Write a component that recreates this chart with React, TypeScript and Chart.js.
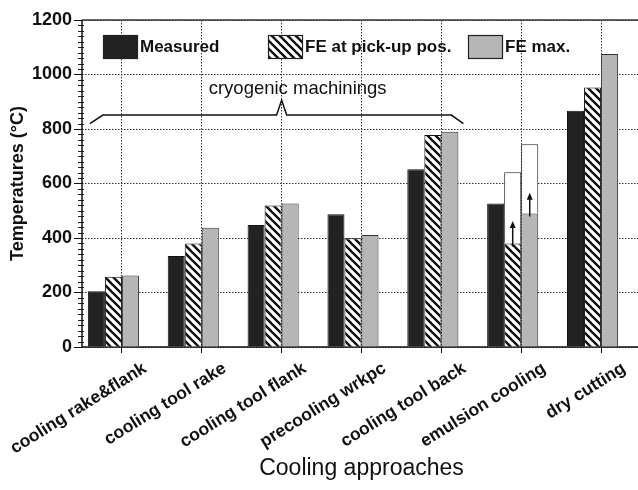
import React, { useEffect, useRef } from 'react';
import { Chart, registerables } from 'chart.js';

Chart.register(...registerables);

const categories = [
  'cooling rake&flank',
  'cooling tool rake',
  'cooling tool flank',
  'precooling wrkpc',
  'cooling tool back',
  'emulsion cooling',
  'dry cutting',
];
const measured = [205, 334, 448, 487, 652, 527, 867];
const fePickup = [258, 380, 519, 399, 778, 380, 952];
const feMax = [262, 438, 527, 411, 790, 490, 1075];
const fePickupRange = [null, null, null, null, null, [380, 641], null];
const feMaxRange = [null, null, null, null, null, [490, 744], null];
const fePickupArrowTip = [null, null, null, null, null, 462, null];
const feMaxArrowTip = [null, null, null, null, null, 566, null];
const spacer = [null, null, null, null, null, null, null];
const yTickValues = [0, 200, 400, 600, 800, 1000, 1200];
const legendLabels = ['Measured', 'FE at pick-up pos.', 'FE max.'];

const bracketLabel = 'cryogenic machinings';
const bracketFirstCategory = 0;
const bracketLastCategory = 4;
const bracketPeakCategory = 2;
const bracketLevel = 851;
const bracketEndLevel = 820;
const bracketPeakLevel = 906;
const bracketLabelLevel = 948;

const FONT = '"Liberation Sans", Arial, Helvetica, sans-serif';

function makeHatch(): CanvasPattern | string {
  const c = document.createElement('canvas');
  c.width = 8;
  c.height = 8;
  const g = c.getContext('2d');
  if (!g) return '#555';
  g.fillStyle = '#111';
  g.fillRect(0, 0, 8, 8);
  g.strokeStyle = '#fff';
  g.lineWidth = 3.2;
  for (const k of [-8, 0, 8]) {
    g.beginPath();
    g.moveTo(k - 1, -1);
    g.lineTo(k + 9, 9);
    g.stroke();
  }
  const p = g.createPattern(c, 'repeat');
  return p || '#555';
}

export default function App() {
  const ref = useRef<HTMLCanvasElement | null>(null);

  useEffect(() => {
    const canvas = ref.current;
    if (!canvas) return;
    const hatch = makeHatch();
    const black = '#222';
    const gray = '#b6b6b6';

    const decorPlugin = {
      id: 'decor',
      beforeDatasetsDraw(chart: any) {
        const { ctx, chartArea, scales } = chart;
        const y = scales.y;
        ctx.save();
        ctx.setLineDash([]);
        ctx.strokeStyle = '#222';
        ctx.lineWidth = 1;
        for (let v = 0; v <= 1200; v += 20) {
          if (v % 200 === 0) continue;
          const py = Math.round(y.getPixelForValue(v)) + 0.5;
          ctx.beginPath();
          ctx.moveTo(chartArea.left - 4, py);
          ctx.lineTo(chartArea.left + 2, py);
          ctx.stroke();
        }
        ctx.strokeStyle = '#333';
        ctx.lineWidth = 1.5;
        ctx.beginPath();
        ctx.moveTo(chartArea.left, chartArea.top);
        ctx.lineTo(chartArea.right, chartArea.top);
        ctx.stroke();
        ctx.strokeStyle = '#111';
        ctx.beginPath();
        ctx.moveTo(chartArea.left, chartArea.top);
        ctx.lineTo(chartArea.left, chartArea.bottom);
        ctx.lineTo(chartArea.right, chartArea.bottom);
        ctx.stroke();
        ctx.restore();
      },
      afterDatasetsDraw(chart: any) {
        const { ctx, chartArea, scales } = chart;
        const x = scales.x;
        const y = scales.y;
        ctx.save();
        ctx.setLineDash([]);
        const arrowSets: [number, (number | null)[]][] = [
          [1, fePickupArrowTip],
          [2, feMaxArrowTip],
        ];
        ctx.strokeStyle = '#111';
        ctx.fillStyle = '#111';
        for (const [di, tips] of arrowSets) {
          const meta = chart.getDatasetMeta(di);
          tips.forEach((tip, i) => {
            if (tip == null) return;
            const el = meta.data[i];
            const cx = el.x;
            const y0 = el.y + 3;
            const y1 = y.getPixelForValue(tip);
            ctx.lineWidth = 1.5;
            ctx.beginPath();
            ctx.moveTo(cx, y0);
            ctx.lineTo(cx, y1 + 5);
            ctx.stroke();
            ctx.beginPath();
            ctx.moveTo(cx, y1);
            ctx.lineTo(cx - 3, y1 + 7);
            ctx.lineTo(cx + 3, y1 + 7);
            ctx.closePath();
            ctx.fill();
          });
        }
        const m0 = chart.getDatasetMeta(0).data[bracketFirstCategory];
        const m2 = chart.getDatasetMeta(2).data[bracketLastCategory];
        const xl = m0.x - m0.width / 2 + 2;
        const xr = m2.x + m2.width / 2 + 5;
        const xp = x.getPixelForValue(bracketPeakCategory);
        const yl = y.getPixelForValue(bracketLevel);
        const ye = y.getPixelForValue(bracketEndLevel);
        const yp = y.getPixelForValue(bracketPeakLevel);
        ctx.strokeStyle = '#111';
        ctx.lineWidth = 1.5;
        ctx.beginPath();
        ctx.moveTo(xl, ye);
        ctx.lineTo(xl + 13, yl);
        ctx.lineTo(xp - 5, yl);
        ctx.lineTo(xp, yp);
        ctx.lineTo(xp + 5, yl);
        ctx.lineTo(xr - 12, yl);
        ctx.lineTo(xr, ye);
        ctx.stroke();
        ctx.font = `18.5px ${FONT}`;
        ctx.textAlign = 'center';
        ctx.textBaseline = 'middle';
        ctx.fillText(bracketLabel, xp + 16, y.getPixelForValue(bracketLabelLevel));

        const boxW = 34;
        const boxH = 23;
        const top = chartArea.top + 15;
        const lx = [chartArea.left + 21, chartArea.left + 186, chartArea.left + 386];
        const fills: (string | CanvasPattern)[] = [black, hatch, gray];
        ctx.font = `bold 17px ${FONT}`;
        ctx.textAlign = 'left';
        ctx.textBaseline = 'middle';
        legendLabels.forEach((lab, i) => {
          ctx.fillStyle = fills[i] as any;
          ctx.fillRect(lx[i], top, boxW, boxH);
          ctx.strokeStyle = '#222';
          ctx.lineWidth = 1.2;
          ctx.strokeRect(lx[i] + 0.5, top + 0.5, boxW, boxH);
          ctx.fillStyle = '#111';
          ctx.fillText(lab, lx[i] + boxW + 3, top + boxH / 2 + 1);
        });
        ctx.restore();
      },
    };

    const chart = new Chart(canvas, {
      type: 'bar',
      data: {
        labels: categories,
        datasets: [
          { label: legendLabels[0], data: measured, backgroundColor: black, borderColor: '#111', borderWidth: 1, stack: 's0' },
          { label: legendLabels[1], data: fePickup, backgroundColor: hatch as any, borderColor: '#111', borderWidth: 1, stack: 's1' },
          { label: legendLabels[2], data: feMax, backgroundColor: gray, borderColor: '#333', borderWidth: 1, stack: 's2' },
          { label: 'range pick-up', data: fePickupRange as any, backgroundColor: '#fff', borderColor: '#222', borderWidth: 1, stack: 's1' },
          { label: 'range max', data: feMaxRange as any, backgroundColor: '#fff', borderColor: '#222', borderWidth: 1, stack: 's2' },
          { label: '', data: spacer as any, backgroundColor: 'rgba(0,0,0,0)', stack: 's3' },
        ],
      },
      options: {
        responsive: false,
        animation: false,
        devicePixelRatio: 1,
        layout: { padding: { top: 20, left: 0, right: 0, bottom: 0 } },
        datasets: { bar: { categoryPercentage: 0.853, barPercentage: 1.0 } },
        plugins: { legend: { display: false }, tooltip: { enabled: false } },
        scales: {
          x: {
            offset: true,
            grid: {
              offset: false,
              color: '#333',
              tickBorderDash: [],
              tickColor: '#111',
              tickLength: 6,
              lineWidth: 1,
            },
            border: { display: false, dash: [1.5, 1.5] },
            ticks: {
              autoSkip: false,
              minRotation: 32,
              maxRotation: 32,
              labelOffset: 23,
              color: '#111',
              padding: 5,
              font: { family: FONT, size: 17.5, weight: 'bold' },
            },
            title: {
              display: true,
              text: 'Cooling approaches',
              color: '#111',
              padding: { top: 0, bottom: 8 },
              font: { family: FONT, size: 23 },
            },
            afterFit(scale: any) {
              scale.height = 143;
              scale.paddingLeft = 0;
              scale.paddingRight = 0;
            },
          },
          y: {
            stacked: false,
            min: 0,
            max: 1200,
            afterBuildTicks(scale: any) {
              scale.ticks = yTickValues.map((v) => ({ value: v }));
            },
            grid: {
              color: '#333',
              tickBorderDash: [],
              tickColor: '#111',
              tickLength: 8,
              lineWidth: 1,
            },
            border: { display: false, dash: [1.5, 1.5] },
            ticks: {
              color: '#111',
              padding: 2,
              callback: (v: any) => String(v),
              font: { family: FONT, size: 18, weight: 'bold' },
            },
            title: {
              display: true,
              text: 'Temperatures (°C)',
              color: '#111',
              padding: { top: 7, bottom: 0 },
              font: { family: FONT, size: 18, weight: 'bold' },
            },
            afterFit(scale: any) {
              scale.width = 82;
            },
          },
        },
      },
      plugins: [decorPlugin],
    });
    return () => chart.destroy();
  }, []);

  return (
    <div style={{ position: 'fixed', left: 0, top: 0, width: 638, height: 490, overflow: 'hidden', background: '#fff' }}>
      <canvas ref={ref} width={641} height={490} style={{ display: 'block', width: 641, height: 490 }} />
    </div>
  );
}
